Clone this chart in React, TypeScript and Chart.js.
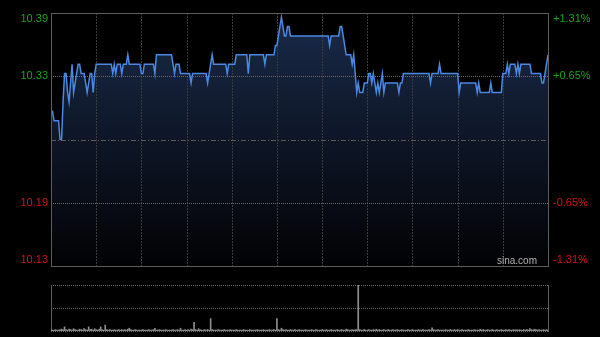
import React, { useEffect, useRef } from 'react';
import { Chart, registerables } from 'chart.js';

Chart.register(...registerables);

const PREV_CLOSE = 10.26;
const RANGE_PCT = 0.0131;
const LEFT_LABELS = ['10.39', '10.33', '10.19', '10.13'];
const RIGHT_LABELS = ['+1.31%', '+0.65%', '-0.65%', '-1.31%'];
const SESSION_MINUTES = 330;
const GRID_EVERY = 30;
const WATERMARK = 'sina.com';

const PRICES = [
  10.29, 10.29, 10.28, 10.28, 10.28, 10.28, 10.26, 10.26, 10.30, 10.33,
  10.33, 10.31, 10.30, 10.32, 10.34, 10.31, 10.32, 10.33, 10.34, 10.34,
  10.33, 10.33, 10.33, 10.32, 10.31, 10.32, 10.33, 10.33, 10.31, 10.33,
  10.34, 10.34, 10.34, 10.34, 10.34, 10.34, 10.34, 10.34, 10.34, 10.34,
  10.34, 10.33, 10.34, 10.33, 10.34, 10.34, 10.34, 10.33, 10.34, 10.34,
  10.34, 10.35, 10.34, 10.34, 10.34, 10.34, 10.34, 10.34, 10.34, 10.34,
  10.33, 10.33, 10.34, 10.34, 10.34, 10.34, 10.34, 10.34, 10.34, 10.33,
  10.35, 10.35, 10.35, 10.35, 10.35, 10.35, 10.35, 10.35, 10.35, 10.35,
  10.35, 10.34, 10.33, 10.34, 10.34, 10.34, 10.33, 10.33, 10.33, 10.33,
  10.33, 10.33, 10.33, 10.32, 10.33, 10.33, 10.33, 10.33, 10.33, 10.33,
  10.33, 10.33, 10.33, 10.33, 10.32, 10.33, 10.34, 10.35, 10.34, 10.34,
  10.34, 10.34, 10.34, 10.34, 10.34, 10.34, 10.34, 10.33, 10.34, 10.34,
  10.34, 10.34, 10.34, 10.35, 10.35, 10.35, 10.35, 10.35, 10.35, 10.35,
  10.35, 10.33, 10.35, 10.35, 10.35, 10.35, 10.35, 10.35, 10.35, 10.35,
  10.35, 10.35, 10.34, 10.35, 10.35, 10.35, 10.35, 10.35, 10.35, 10.36,
  10.36, 10.37, 10.38, 10.39, 10.38, 10.37, 10.37, 10.38, 10.38, 10.37,
  10.37, 10.37, 10.37, 10.37, 10.37, 10.37, 10.37, 10.37, 10.37, 10.37,
  10.37, 10.37, 10.37, 10.37, 10.37, 10.37, 10.37, 10.37, 10.37, 10.37,
  10.37, 10.37, 10.37, 10.37, 10.37, 10.36, 10.37, 10.37, 10.37, 10.37,
  10.37, 10.37, 10.38, 10.38, 10.37, 10.36, 10.35, 10.35, 10.35, 10.35,
  10.34, 10.35, 10.33, 10.31, 10.32, 10.31, 10.31, 10.31, 10.32, 10.32,
  10.32, 10.33, 10.33, 10.32, 10.33, 10.32, 10.31, 10.32, 10.31, 10.32,
  10.33, 10.31, 10.32, 10.32, 10.32, 10.32, 10.32, 10.32, 10.32, 10.32,
  10.32, 10.31, 10.32, 10.32, 10.33, 10.33, 10.33, 10.33, 10.33, 10.33,
  10.33, 10.33, 10.33, 10.33, 10.33, 10.33, 10.33, 10.33, 10.33, 10.33,
  10.33, 10.33, 10.32, 10.33, 10.33, 10.33, 10.33, 10.33, 10.34, 10.33,
  10.33, 10.33, 10.33, 10.33, 10.33, 10.33, 10.33, 10.33, 10.33, 10.33,
  10.33, 10.31, 10.32, 10.32, 10.32, 10.32, 10.32, 10.32, 10.32, 10.32,
  10.32, 10.32, 10.32, 10.31, 10.32, 10.31, 10.31, 10.31, 10.31, 10.31,
  10.31, 10.31, 10.32, 10.31, 10.31, 10.31, 10.31, 10.31, 10.31, 10.31,
  10.33, 10.33, 10.33, 10.34, 10.33, 10.34, 10.34, 10.34, 10.34, 10.33,
  10.34, 10.33, 10.34, 10.34, 10.34, 10.34, 10.34, 10.34, 10.34, 10.33,
  10.33, 10.33, 10.33, 10.33, 10.33, 10.33, 10.32, 10.32, 10.33, 10.34,
  10.35,
];

const VOLUMES = [
  3, 2, 2, 3, 2, 2, 3, 4, 3, 9,
  3, 2, 4, 3, 2, 5, 3, 2, 2, 4,
  3, 2, 5, 3, 2, 9, 3, 4, 2, 5,
  3, 2, 4, 9, 3, 2, 13, 3, 2, 3,
  2, 2, 3, 2, 2, 3, 2, 3, 2, 3,
  2, 4, 6, 3, 2, 2, 3, 2, 2, 2,
  2, 3, 2, 2, 2, 3, 2, 2, 3, 6,
  2, 2, 3, 2, 2, 2, 3, 2, 2, 2,
  2, 3, 2, 2, 3, 2, 6, 2, 2, 3,
  2, 3, 2, 4, 3, 19, 3, 2, 5, 3,
  2, 2, 3, 2, 3, 2, 27, 3, 2, 2,
  2, 3, 2, 2, 2, 3, 2, 2, 2, 3,
  2, 2, 2, 3, 2, 2, 2, 2, 3, 2,
  2, 2, 3, 2, 2, 2, 2, 3, 2, 2,
  2, 3, 2, 2, 2, 3, 2, 2, 3, 2,
  27, 3, 2, 6, 3, 2, 3, 2, 2, 3,
  2, 2, 3, 2, 2, 3, 2, 2, 2, 3,
  2, 2, 2, 3, 2, 2, 3, 2, 2, 2,
  3, 2, 2, 3, 2, 2, 3, 2, 2, 2,
  3, 2, 2, 3, 2, 2, 4, 3, 2, 2,
  3, 2, 3, 3, 100, 3, 2, 2, 3, 2,
  2, 3, 2, 2, 3, 2, 4, 2, 3, 2,
  2, 3, 2, 2, 3, 2, 2, 3, 2, 2,
  3, 2, 2, 3, 2, 2, 2, 3, 2, 2,
  3, 2, 2, 2, 3, 2, 2, 3, 2, 2,
  2, 3, 2, 7, 3, 2, 2, 3, 2, 2,
  2, 2, 3, 2, 2, 3, 2, 2, 3, 2,
  3, 2, 2, 3, 2, 2, 2, 3, 2, 2,
  2, 3, 2, 2, 2, 4, 2, 3, 2, 2,
  3, 2, 2, 3, 2, 2, 3, 2, 2, 3,
  2, 2, 3, 2, 3, 2, 2, 3, 2, 3,
  2, 3, 2, 2, 3, 2, 3, 2, 5, 3,
  2, 4, 3, 2, 3, 2, 2, 3, 2, 3,
  2,
];

const MINUTES = PRICES.map((_, i) => String(i));

const W = 600;
const H = 337;
const FONT = '11px "Liberation Sans", Arial, sans-serif';
const UP = '#1aa31a';
const DOWN = '#d01515';

const Y_MAX = PREV_CLOSE * (1 + RANGE_PCT);
const Y_MIN = PREV_CLOSE * (1 - RANGE_PCT);

function hLine(ctx: CanvasRenderingContext2D, x1: number, x2: number, y: number) {
  const py = Math.round(y) + 0.5;
  ctx.beginPath();
  ctx.moveTo(x1, py);
  ctx.lineTo(x2, py);
  ctx.stroke();
}
function vLine(ctx: CanvasRenderingContext2D, x: number, y1: number, y2: number) {
  const px = Math.round(x) + 0.5;
  ctx.beginPath();
  ctx.moveTo(px, y1);
  ctx.lineTo(px, y2);
  ctx.stroke();
}

const mainDecor = {
  id: 'mainDecor',
  beforeDatasetsDraw(chart: any) {
    const { ctx, chartArea: a, scales } = chart;
    const xs = scales.x;
    const ys = scales.y;
    ctx.save();
    ctx.lineWidth = 1;
    ctx.strokeStyle = '#3a3a3a';
    ctx.setLineDash([2, 1]);
    for (let m = GRID_EVERY; m < SESSION_MINUTES; m += GRID_EVERY) {
      vLine(ctx, xs.getPixelForValue(m), a.top, a.bottom);
    }
    const range = Y_MAX - Y_MIN;
    ctx.strokeStyle = '#6a6a6a';
    ctx.setLineDash([1, 1]);
    hLine(ctx, a.left, a.right, ys.getPixelForValue(Y_MAX - range / 4));
    hLine(ctx, a.left, a.right, ys.getPixelForValue(Y_MIN + range / 4));
    ctx.strokeStyle = '#5a5a5a';
    ctx.setLineDash([5, 2, 1, 2]);
    hLine(ctx, a.left, a.right, ys.getPixelForValue(PREV_CLOSE));
    ctx.restore();
  },
  afterDatasetsDraw(chart: any) {
    const { ctx, chartArea: a, scales } = chart;
    const ys = scales.y;
    ctx.save();
    ctx.setLineDash([]);
    ctx.lineWidth = 1;
    ctx.strokeStyle = '#5c5c5c';
    ctx.strokeRect(Math.round(a.left) + 0.5, Math.round(a.top) + 0.5, Math.round(a.right - a.left), Math.round(a.bottom - a.top));

    const range = Y_MAX - Y_MIN;
    const vals = [Y_MAX, Y_MAX - range / 4, Y_MIN + range / 4, Y_MIN];
    ctx.font = FONT;
    vals.forEach((v, i) => {
      let y = ys.getPixelForValue(v);
      if (i === 0) y += 6;
      if (i === vals.length - 1) y -= 6;
      const col = v > PREV_CLOSE ? UP : DOWN;
      ctx.fillStyle = col;
      ctx.textBaseline = 'middle';
      ctx.textAlign = 'right';
      ctx.fillText(LEFT_LABELS[i], a.left - 3, y);
      ctx.textAlign = 'left';
      ctx.fillText(RIGHT_LABELS[i], a.right + 5, y);
    });

    ctx.font = '10px "Liberation Sans", Arial, sans-serif';
    ctx.fillStyle = '#b0b0b0';
    ctx.textAlign = 'right';
    ctx.textBaseline = 'middle';
    ctx.fillText(WATERMARK, a.right - 11, a.bottom - 5);
    ctx.restore();
  },
};

const volDecor = {
  id: 'volDecor',
  beforeDatasetsDraw(chart: any) {
    const { ctx, chartArea: a } = chart;
    ctx.save();
    ctx.lineWidth = 1;
    ctx.strokeStyle = '#6a6a6a';
    ctx.setLineDash([1, 1]);
    hLine(ctx, a.left, a.right, a.top);
    hLine(ctx, a.left, a.right, (a.top + a.bottom) / 2);
    hLine(ctx, a.left, a.right, a.bottom);
    ctx.setLineDash([]);
    ctx.strokeStyle = '#5c5c5c';
    vLine(ctx, a.left, a.top, a.bottom + 1);
    vLine(ctx, a.right, a.top, a.bottom + 1);
    ctx.restore();
  },
};

export default function App() {
  const mainRef = useRef<HTMLCanvasElement | null>(null);
  const volRef = useRef<HTMLCanvasElement | null>(null);

  useEffect(() => {
    if (!mainRef.current || !volRef.current) return;
    const main = new Chart(mainRef.current, {
      type: 'line',
      data: {
        labels: MINUTES,
        datasets: [
          {
            data: PRICES,
            borderColor: '#4a88e2',
            borderWidth: 1.5,
            pointRadius: 0,
            tension: 0,
            fill: 'start',
            backgroundColor: (c: any) => {
              const area = c.chart.chartArea;
              if (!area) return 'rgba(20,32,56,0.9)';
              const g = c.chart.ctx.createLinearGradient(0, area.top, 0, area.bottom);
              g.addColorStop(0, 'rgba(28,46,80,0.92)');
              g.addColorStop(1, 'rgba(2,2,4,0.92)');
              return g;
            },
          },
        ],
      },
      options: {
        responsive: false,
        animation: false,
        layout: { padding: { left: 51, top: 13, right: 52, bottom: 71 } },
        plugins: {
          legend: { display: false },
          tooltip: { enabled: false },
          filler: { drawTime: 'beforeDatasetsDraw' },
        },
        scales: {
          x: { display: false, offset: false },
          y: { display: false, min: Y_MIN, max: Y_MAX },
        },
      } as any,
      plugins: [mainDecor],
    });

    const vol = new Chart(volRef.current, {
      type: 'bar',
      data: {
        labels: MINUTES,
        datasets: [
          {
            data: VOLUMES,
            backgroundColor: '#8c8c8c',
            barThickness: 1,
            borderWidth: 0,
          },
        ],
      },
      options: {
        responsive: false,
        animation: false,
        layout: { padding: { left: 51, top: 285, right: 52, bottom: 6 } },
        plugins: { legend: { display: false }, tooltip: { enabled: false } },
        scales: {
          x: { display: false, offset: false },
          y: { display: false, min: 0, max: 100 },
        },
      } as any,
      plugins: [volDecor],
    });

    return () => {
      main.destroy();
      vol.destroy();
    };
  }, []);

  return (
    <div style={{ position: 'fixed', left: 0, top: 0, width: W, height: H, background: '#000', overflow: 'hidden' }}>
      <canvas ref={mainRef} width={W} height={H} style={{ position: 'absolute', left: 0, top: 0 }} />
      <canvas ref={volRef} width={W} height={H} style={{ position: 'absolute', left: 0, top: 0 }} />
    </div>
  );
}
